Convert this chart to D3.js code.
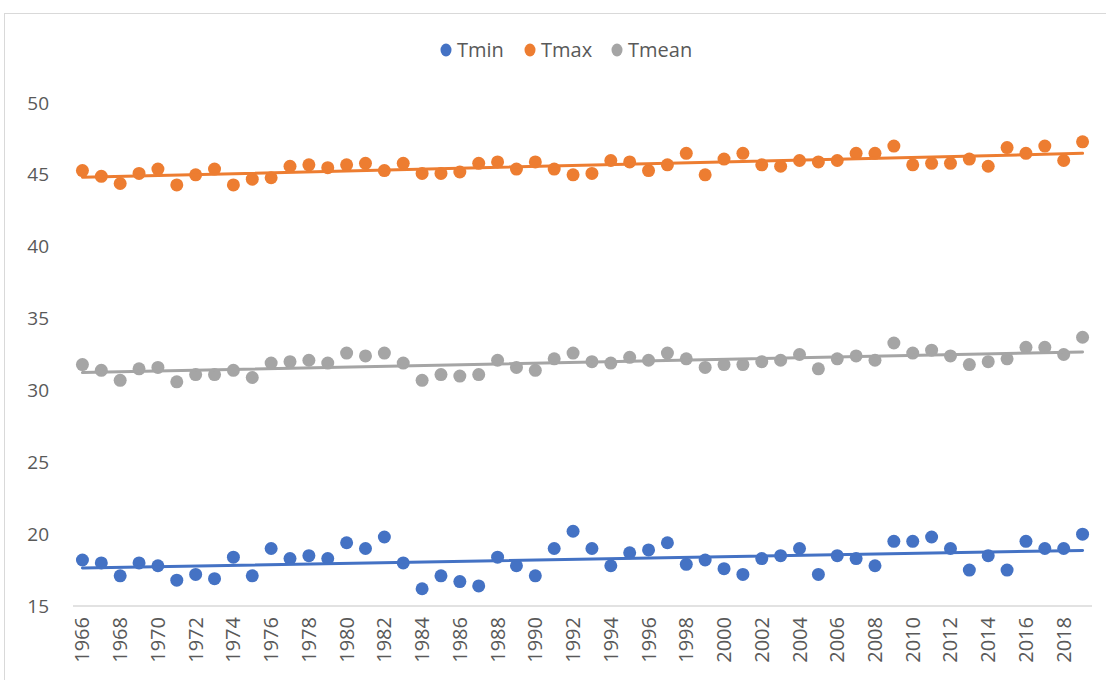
<!DOCTYPE html>
<html>
<head>
<meta charset="utf-8">
<script src="https://cdn.jsdelivr.net/npm/d3@7"></script>
<style>
  html, body { margin: 0; padding: 0; background: #fff; }
  svg { display: block; }
</style>
</head>
<body>
<svg id="chart" width="1106" height="680"></svg>
<script>
// Annual temperature series, 1966–2019
const years = d3.range(1966, 2020);

const tmin = [18.2, 18.0, 17.1, 18.0, 17.8, 16.8, 17.2, 16.9, 18.4, 17.1,
              19.0, 18.3, 18.5, 18.3, 19.4, 19.0, 19.8, 18.0, 16.2, 17.1,
              16.7, 16.4, 18.4, 17.8, 17.1, 19.0, 20.2, 19.0, 17.8, 18.7,
              18.9, 19.4, 17.9, 18.2, 17.6, 17.2, 18.3, 18.5, 19.0, 17.2,
              18.5, 18.3, 17.8, 19.5, 19.5, 19.8, 19.0, 17.5, 18.5, 17.5,
              19.5, 19.0, 19.0, 20.0];

const tmax = [45.3, 44.9, 44.4, 45.1, 45.4, 44.3, 45.0, 45.4, 44.3, 44.7,
              44.8, 45.6, 45.7, 45.5, 45.7, 45.8, 45.3, 45.8, 45.1, 45.1,
              45.2, 45.8, 45.9, 45.4, 45.9, 45.4, 45.0, 45.1, 46.0, 45.9,
              45.3, 45.7, 46.5, 45.0, 46.1, 46.5, 45.7, 45.6, 46.0, 45.9,
              46.0, 46.5, 46.5, 47.0, 45.7, 45.8, 45.8, 46.1, 45.6, 46.9,
              46.5, 47.0, 46.0, 47.3];

const tmean = [31.8, 31.4, 30.7, 31.5, 31.6, 30.6, 31.1, 31.1, 31.4, 30.9,
               31.9, 32.0, 32.1, 31.9, 32.6, 32.4, 32.6, 31.9, 30.7, 31.1,
               31.0, 31.1, 32.1, 31.6, 31.4, 32.2, 32.6, 32.0, 31.9, 32.3,
               32.1, 32.6, 32.2, 31.6, 31.8, 31.8, 32.0, 32.1, 32.5, 31.5,
               32.2, 32.4, 32.1, 33.3, 32.6, 32.8, 32.4, 31.8, 32.0, 32.2,
               33.0, 33.0, 32.5, 33.7];

const yTicks = [15, 20, 25, 30, 35, 40, 45, 50];
const xTickYears = years.filter(y => (y - 1966) % 2 === 0);

const seriesNames = ["Tmin", "Tmax", "Tmean"];
const seriesColors = ["#4472C4", "#ED7D31", "#A5A5A5"];
const seriesValues = [tmin, tmax, tmean];

const svg = d3.select("#chart");
const textColor = "#595959";
const font = "'Open Sans', 'Liberation Sans', sans-serif";

// Chart frame
svg.append("rect")
  .attr("x", 4.5).attr("y", 13.5)
  .attr("width", 1120).attr("height", 700)
  .attr("fill", "none").attr("stroke", "#d9d9d9").attr("stroke-width", 1);

const plot = { left: 73, right: 1092, top: 103, bottom: 606 };

const x = d3.scaleBand()
  .domain(years)
  .range([plot.left, plot.right])
  .paddingInner(0).paddingOuter(0);

const y = d3.scaleLinear()
  .domain([15, 50])
  .range([plot.bottom, plot.top]);

const cx = yr => x(yr) + x.bandwidth() / 2;

// Horizontal axis line at the base value
svg.append("line")
  .attr("x1", plot.left).attr("x2", plot.right)
  .attr("y1", y(15)).attr("y2", y(15))
  .attr("stroke", "#d9d9d9").attr("stroke-width", 1.5);

// Y axis labels
const yAxis = d3.axisLeft(y).tickValues(yTicks).tickSize(0).tickPadding(0);
const gy = svg.append("g")
  .attr("transform", `translate(49,0)`)
  .call(yAxis);
gy.select(".domain").remove();
gy.selectAll("text")
  .attr("fill", textColor)
  .attr("font-family", font)
  .attr("font-size", 19);

// X axis labels, rotated
const xAxis = d3.axisBottom(x).tickValues(xTickYears).tickSize(0).tickPadding(0);
const gx = svg.append("g")
  .attr("transform", `translate(0,${plot.bottom})`)
  .call(xAxis);
gx.select(".domain").remove();
gx.selectAll("text")
  .attr("fill", textColor)
  .attr("font-family", font)
  .attr("font-size", 20)
  .attr("text-anchor", "end")
  .attr("dy", "0.35em")
  .attr("transform", "translate(0,11) rotate(-90)")
  .attr("x", 0).attr("y", 0);

// Least-squares linear trend over category index
function linearFit(vals) {
  const n = vals.length;
  const xs = d3.range(1, n + 1);
  const mx = d3.mean(xs), my = d3.mean(vals);
  let sxy = 0, sxx = 0;
  for (let i = 0; i < n; i++) {
    sxy += (xs[i] - mx) * (vals[i] - my);
    sxx += (xs[i] - mx) * (xs[i] - mx);
  }
  const b = sxy / sxx;
  const a = my - b * mx;
  return i => a + b * (i + 1);
}

seriesValues.forEach((vals, si) => {
  const color = seriesColors[si];
  const g = svg.append("g");
  g.selectAll("circle")
    .data(years.map((yr, i) => ({ yr, v: vals[i] })))
    .join("circle")
    .attr("cx", d => cx(d.yr))
    .attr("cy", d => y(d.v))
    .attr("r", 6.5)
    .attr("fill", color);

  const fit = linearFit(vals);
  const n = vals.length;
  svg.append("line")
    .attr("x1", cx(years[0])).attr("y1", y(fit(0)))
    .attr("x2", cx(years[n - 1])).attr("y2", y(fit(n - 1)))
    .attr("stroke", color)
    .attr("stroke-width", 3)
    .attr("stroke-linecap", "round");
});

// Legend
const legendItems = [
  { name: "Tmin", cx: 446 },
  { name: "Tmax", cx: 530 },
  { name: "Tmean", cx: 617 }
];
const lg = svg.append("g");
legendItems.forEach((it, i) => {
  lg.append("ellipse")
    .attr("cx", it.cx).attr("cy", 50)
    .attr("rx", 5.5).attr("ry", 6.5)
    .attr("fill", seriesColors[i]);
  lg.append("text")
    .attr("x", it.cx + 11).attr("y", 50)
    .attr("dy", "0.35em")
    .attr("fill", textColor)
    .attr("font-family", font)
    .attr("font-size", 20)
    .text(seriesNames[i]);
});
</script>
</body>
</html>
